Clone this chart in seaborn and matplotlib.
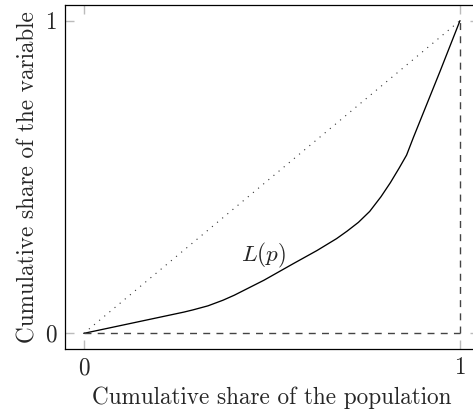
import matplotlib
matplotlib.use("Agg")
import matplotlib.pyplot as plt
import seaborn as sns
import pandas as pd

# Lorenz curve values
p_values = [0, 0.266, 0.290, 0.330, 0.370, 0.400, 0.479, 0.557, 0.620, 0.672, 0.700, 0.730, 0.760, 0.790, 0.815, 0.838, 0.858, 0.876, 0.947, 1]
L_values = [0, 0.068, 0.075, 0.088, 0.106, 0.122, 0.170, 0.223, 0.265, 0.303, 0.327, 0.355, 0.390, 0.437, 0.482, 0.528, 0.570, 0.626, 0.838, 1]
diag_x = [0, 1]
diag_y = [0, 1]
tick_vals = [0, 1]
tick_labels = ["0", "1"]
curve_label = r"$L(p)$"
x_label = "Cumulative share of the population"
y_label = "Cumulative share of the variable"

sns.set_style("white")
plt.rcParams["font.family"] = ["cmr10", "DejaVu Serif"]
plt.rcParams["mathtext.fontset"] = "cm"
plt.rcParams["axes.unicode_minus"] = False
plt.rcParams["axes.formatter.use_mathtext"] = True

fs = 16.7
fig = plt.figure(figsize=(4.73, 4.12), dpi=100)
ax = fig.add_axes([65 / 473, 63 / 412, (478.8 - 65) / 473, (349 - 5) / 412])

df = pd.DataFrame({"p": p_values, "L": L_values})
sns.lineplot(data=df, x="p", y="L", ax=ax, color="black", linewidth=0.95,
             sort=False, estimator=None)
ax.plot(diag_x, diag_y, color="#333333", linewidth=0.8, linestyle=(0, (1, 5)))
ax.plot([0, 1], [0, 0], color="#444444", linewidth=1.0, linestyle=(0, (5, 4.5)))
ax.plot([1, 1], [0, 1], color="#444444", linewidth=1.0, linestyle=(0, (5, 4.5)))

ax.text(0.479, 0.25, curve_label, fontsize=fs, ha="center", va="center")

ax.set_xlim(-0.05, 1.05)
ax.set_ylim(-0.05, 1.05)
ax.set_xticks(tick_vals)
ax.set_xticklabels(tick_labels, fontsize=fs)
ax.set_yticks(tick_vals)
ax.set_yticklabels(tick_labels, fontsize=fs)
ax.tick_params(axis="both", which="both", direction="in", length=6.5, width=1.0,
               color="#bbbbbb", top=True, right=True, bottom=True, left=True, pad=6)
ax.set_xlabel(x_label, fontsize=fs, labelpad=5)
ax.set_ylabel(y_label, fontsize=fs, labelpad=4)
for s in ax.spines.values():
    s.set_color("black")
    s.set_linewidth(0.9)
ax.spines["right"].set_visible(False)

fig.savefig("out.png", dpi=100)
